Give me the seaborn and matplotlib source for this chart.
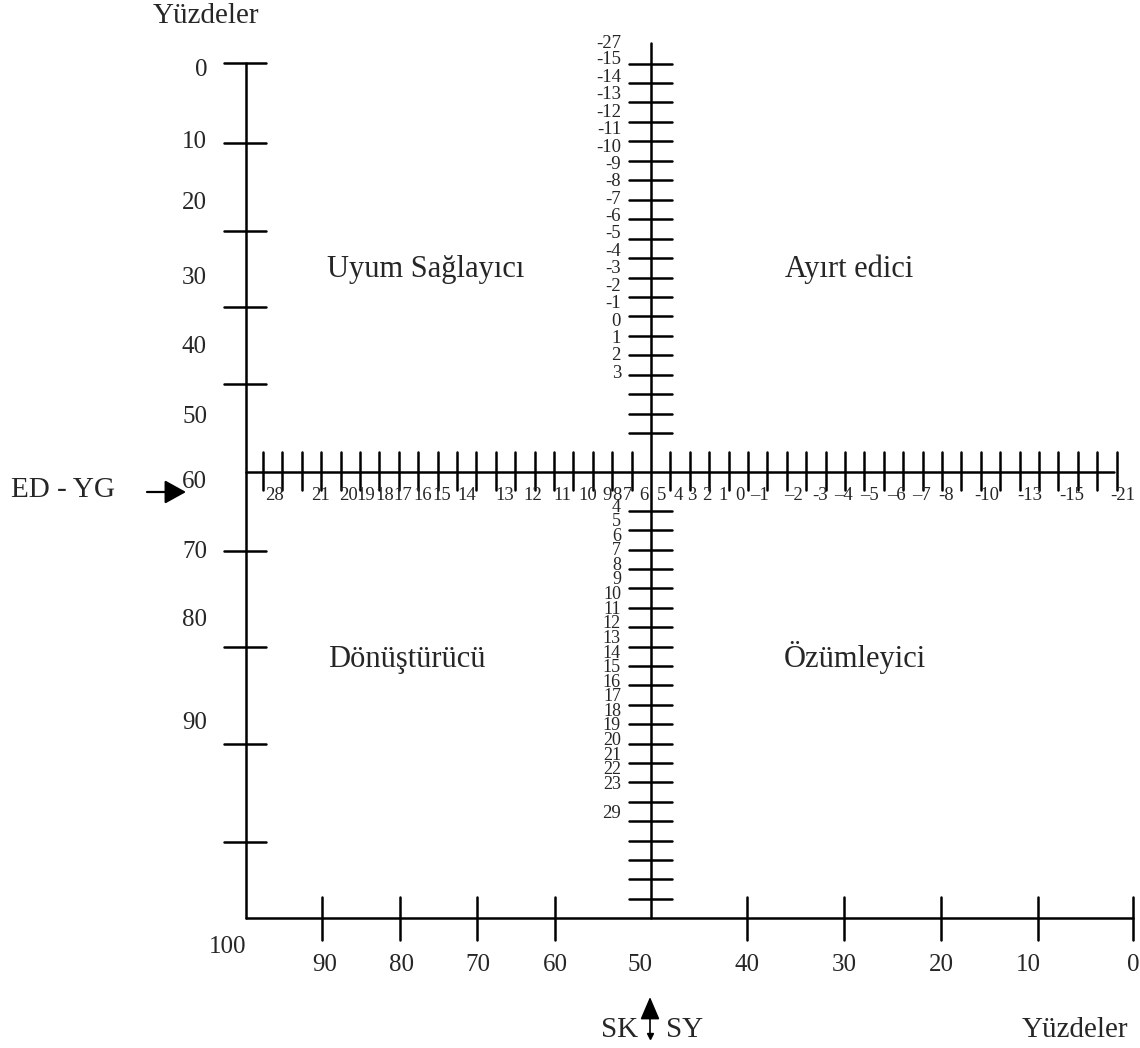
import numpy as np
import pandas as pd
import matplotlib.pyplot as plt
import seaborn as sns

sns.set_theme(style="white")
plt.rcParams['font.family'] = ['Liberation Serif', 'DejaVu Serif']

# ---- data (labels read from the form) ----
pct_left = ["0", "10", "20", "30", "40", "50", "60", "70", "80", "90"]
pct_bottom = ["90", "80", "70", "60", "50", "40", "30", "20", "10", "0"]
pct_corner = "100"
row_left = ["28", "21", "20", "19", "18", "17", "16", "15", "14", "13",
            "12", "11", "10", "9", "8", "7", "6"]
row_right = ["5", "4", "3", "2", "1", "0", "–1", "–2", "-3", "–4", "–5",
             "–6", "–7", "-8", "-10", "-13", "-15", "-21"]
col_top = ["-27", "-15", "-14", "-13", "-12", "-11", "-10", "-9", "-8", "-7",
           "-6", "-5", "-4", "-3", "-2", "-1", "0", "1", "2", "3"]
col_bottom = ["4", "5", "6", "7", "8", "9", "10", "11", "12", "13", "14",
              "15", "16", "17", "18", "19", "20", "21", "22", "23", "29"]
quadrants = ["Uyum Sağlayıcı", "Ayırt edici", "Dönüştürücü", "Özümleyici"]

# ---- layout (pixel space of the scanned form) ----
X0, X1, CX = 246, 1133, 651
Y0, Y1, CY = 63, 918, 472
left_tick_y = [63, 143, 231, 307, 384, 551, 647, 744, 842]
left_label_y = [70, 142, 203, 278, 347, 417, 482, 552, 620, 723]
bottom_tick_x = [322, 400, 477, 555, 747, 844, 941, 1038, 1133]
bottom_label_x = [325, 401, 478, 555, 640, 747, 844, 941, 1028, 1133]
row_left_x = [275, 321, 349, 366, 385, 403, 423, 442, 467, 505, 533, 562,
              588, 607, 617, 627, 644]
row_right_x = [662, 678, 692, 707, 723, 740, 760, 793, 820, 843, 870, 896,
               922, 946, 987, 1030, 1072, 1123]
step = 19.4

segs = []
segs.append((X0, Y0, X0, Y1))
segs.append((X0, Y1, X1, Y1))
segs.append((CX, 43, CX, Y1))
segs.append((X0, CY, 1114, CY))
for y in left_tick_y:
    segs.append((224, y, 266, y))
for x in bottom_tick_x:
    segs.append((x, 897, x, 940))
for j in range(1, 21):
    segs.append((CX - step * j, 452, CX - step * j, 490))
for j in range(1, 25):
    segs.append((CX + step * j, 452, CX + step * j, 490))
for j in range(2, 22):
    segs.append((629, CY - 19.45 * j, 672, CY - 19.45 * j))
for j in range(2, 23):
    segs.append((629, CY + step * j, 672, CY + step * j))

rows = []
for i, (xa, ya, xb, yb) in enumerate(segs):
    rows.append({"x": xa, "y": ya, "seg": i})
    rows.append({"x": xb, "y": yb, "seg": i})
df = pd.DataFrame(rows)

fig = plt.figure(figsize=(11.4, 10.48), dpi=100)
ax = fig.add_axes([0, 0, 1, 1])
sns.lineplot(data=df, x="x", y="y", units="seg", estimator=None, sort=False,
             color="black", lw=1.8, ax=ax)
ax.set_xlim(0, 1140)
ax.set_ylim(1048, 0)
ax.axis("off")

big = 21
# percentage scales
for lab, y in zip(pct_left, left_label_y):
    ax.text(207, y, lab, ha="right", va="center", fontsize=18)
ax.text(228, 947, pct_corner, ha="center", va="center", fontsize=18)
for lab, x in zip(pct_bottom, bottom_label_x):
    ax.text(x, 965, lab, ha="center", va="center", fontsize=18)
ax.text(206, 16, "Yüzdeler", ha="center", va="center", fontsize=big)
ax.text(1075, 1030, "Yüzdeler", ha="center", va="center", fontsize=big)

# inner scales
for lab, x in zip(row_left + row_right, row_left_x + row_right_x):
    ax.text(x, 495, lab, ha="center", va="center", fontsize=13.5)
ax.text(621, 43, col_top[0], ha="right", va="center", fontsize=13.5)
for k, lab in enumerate(col_top[1:]):
    ax.text(621, 60 + 17.4 * k, lab, ha="right", va="center", fontsize=13.5)
for k, lab in enumerate(col_bottom[:-1]):
    ax.text(621, 507 + 14.6 * k, lab, ha="right", va="center", fontsize=13)
ax.text(621, 813, col_bottom[-1], ha="right", va="center", fontsize=13.5)

# quadrant names
for lab, (x, y) in zip(quadrants, [(426, 277), (849, 277), (407, 667), (855, 667)]):
    ax.text(x, y, lab, ha="center", va="baseline", fontsize=22)

# axis markers
ax.text(63, 490, "ED - YG", ha="center", va="center", fontsize=big)
ax.annotate("", xy=(186, 492), xytext=(147, 492),
            arrowprops=dict(arrowstyle="-|>,head_length=0.65,head_width=0.36",
                            color="black", lw=1.6, mutation_scale=20,
                            shrinkA=0, shrinkB=0))
ax.text(620, 1030, "SK", ha="center", va="center", fontsize=big)
ax.text(685, 1030, "SY", ha="center", va="center", fontsize=big)
ax.annotate("", xy=(650, 997), xytext=(650, 1037),
            arrowprops=dict(arrowstyle="-|>,head_length=0.7,head_width=0.3",
                            color="black", lw=1.2, mutation_scale=20,
                            shrinkA=0, shrinkB=0))
ax.plot([650], [1036], marker="v", color="black", markersize=4)

fig.savefig("out.png", dpi=100, facecolor="white")
